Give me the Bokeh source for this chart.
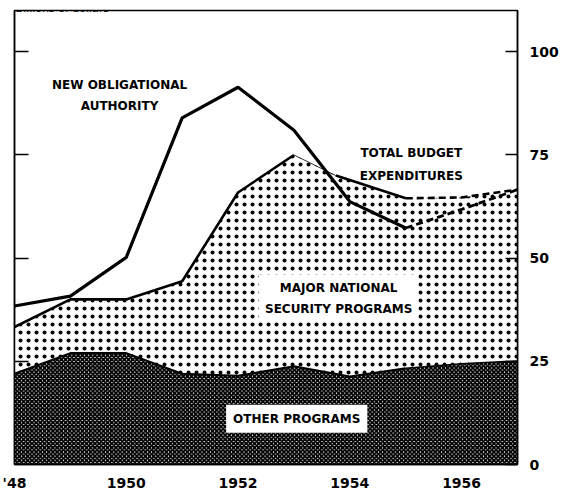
from bokeh.plotting import figure
from bokeh.models import LinearAxis, FixedTicker, Label, Range1d
from bokeh.embed import file_html
from bokeh.resources import INLINE

# ---- data (billions of dollars, fiscal years) ----
years = [1948, 1949, 1950, 1951, 1952, 1953, 1954, 1955, 1956, 1957]
new_obligational = [38.4, 40.8, 50.2, 84.0, 91.4, 81.0, 63.7, 57.3, 61.8, 66.6]
total_x = [1948, 1949, 1950, 1951, 1952, 1953, 1953.75, 1955, 1956, 1957]
total_exp = [33.3, 40.0, 40.0, 44.4, 65.9, 75.0, 70.0, 64.5, 64.7, 66.6]
other_programs = [22.0, 27.0, 27.0, 22.0, 21.5, 23.8, 21.3, 23.3, 24.4, 25.1]
y_ticks = [0, 25, 50, 75, 100]
x_ticks = [1948, 1950, 1952, 1954, 1956]
x_labels = ["'48", "1950", "1952", "1954", "1956"]

FONT = "DejaVu Sans"

p = figure(width=561, height=493, output_backend="svg", toolbar_location=None,
           x_range=Range1d(1948, 1957), y_range=Range1d(0, 110),
           y_axis_location="right",
           min_border_left=14, min_border_right=43, min_border_top=10, min_border_bottom=27)
p.grid.visible = False
p.outline_line_color = "black"
p.outline_line_width = 1.5
p.background_fill_color = "white"
p.border_fill_color = "white"

# ---- areas ----
p.varea(x=years, y1=[0] * len(years), y2=other_programs, fill_color="white",
        hatch_pattern="diagonal_cross", hatch_color="black", hatch_scale=4.2, hatch_weight=2.0)
px = total_x + years[::-1]
py = total_exp + other_programs[::-1]
p.patch(px, py, fill_color="white", line_color=None,
        hatch_pattern="dot", hatch_color="black", hatch_scale=8, hatch_weight=1)
p.line(years[:8], other_programs[:8], line_color="black", line_width=2)
p.line(years[7:], other_programs[7:], line_color="black", line_width=1.5)

# ---- lines ----
p.line(years[:8], new_obligational[:8], line_color="black", line_width=3.2)
p.line(years[7:], new_obligational[7:], line_color="black", line_width=2.8, line_dash="7 4")
p.line(total_x[:6], total_exp[:6], line_color="black", line_width=2.6)
p.line(total_x[5:7], total_exp[5:7], line_color="black", line_width=0.8)
p.line(total_x[6:8], total_exp[6:8], line_color="black", line_width=2.6)
p.line(total_x[7:], total_exp[7:], line_color="black", line_width=2.6, line_dash="7 4")

# ---- axes ----
ra = p.yaxis[0]
ra.ticker = FixedTicker(ticks=y_ticks)
ra.major_tick_in = 12
ra.major_tick_out = 0
ra.minor_tick_line_color = None
ra.major_tick_line_width = 1.5
ra.axis_line_color = "black"
ra.axis_line_width = 1.5
ra.major_label_standoff = 12
ra.major_label_text_font = FONT
ra.major_label_text_font_style = "bold"
ra.major_label_text_font_size = "14px"
ra.major_label_text_color = "black"

la = LinearAxis(ticker=FixedTicker(ticks=y_ticks[1:]), major_tick_in=14, major_tick_out=0,
                minor_tick_line_color=None,
                major_label_overrides={t: "" for t in y_ticks[1:]},
                major_label_standoff=0, axis_line_width=1.5, major_tick_line_width=1.5)
p.add_layout(la, "left")

xa = p.xaxis[0]
xa.ticker = FixedTicker(ticks=x_ticks)
xa.major_label_overrides = dict(zip(x_ticks, x_labels))
xa.major_tick_in = 0
xa.major_tick_out = 0
xa.minor_tick_line_color = None
xa.axis_line_width = 1.5
xa.major_label_standoff = 10
xa.major_label_text_font = FONT
xa.major_label_text_font_style = "bold"
xa.major_label_text_font_size = "14px"
xa.major_label_text_color = "black"

# ---- annotations ----
def lab(x, y, text, lh=1.5, box=False, pad=0):
    kw = {}
    if box:
        kw = dict(background_fill_color="white", padding=pad)
    p.add_layout(Label(x=x, y=y, text=text, text_align="center", text_baseline="middle",
                       text_font=FONT, text_font_style="bold", text_font_size="12px",
                       text_line_height=lh, text_color="black", **kw))

lab(1949.88, 89.3, "NEW OBLIGATIONAL\nAUTHORITY")
lab(1955.1, 72.6, "TOTAL BUDGET\nEXPENDITURES", lh=1.65)
lab(1953.8, 40.3, "MAJOR NATIONAL\nSECURITY PROGRAMS", box=True, pad=6)
lab(1953.05, 11.1, "OTHER PROGRAMS", box=True, pad=7)

p.add_layout(Label(x=years[0], y=110.45, text="Billions of dollars", text_align="left",
                   text_baseline="alphabetic", text_font=FONT, text_font_size="11px",
                   text_color="black", x_offset=1))

open("out.html", "w").write(file_html(p, INLINE))
